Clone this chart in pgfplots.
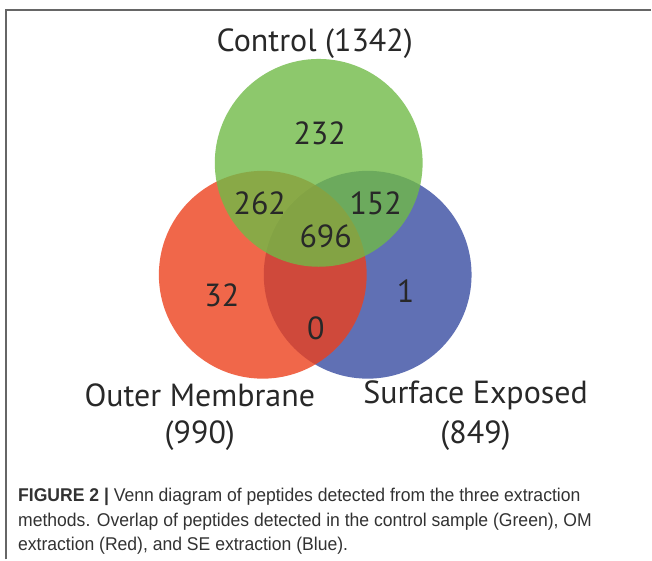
\documentclass[border=0pt]{standalone}
\usepackage{pgfplots}
\pgfplotsset{compat=1.18}
\usepackage{fontspec}
\setmainfont{Liberation Sans}
\newfontfamily\myriad{PT Sans}
\newfontfamily\capfont[FakeStretch=0.95]{Liberation Sans}
\definecolor{vblue}{RGB}{56,76,161}
\definecolor{vred}{RGB}{236,65,29}
\definecolor{vgreen}{RGB}{112,186,71}
\definecolor{txt}{RGB}{40,40,40}
\definecolor{captxt}{RGB}{50,50,50}
\pgfplotsset{set layers}
\tikzset{lab/.style={font=\myriad\fontsize{32}{38}\selectfont,text=txt,inner sep=0pt},
  capt/.style={anchor=west,font=\capfont\fontsize{18.5}{22}\selectfont,text=captxt,inner sep=0pt}}
\begin{document}
\begin{tikzpicture}
\begin{axis}[width=652pt,height=560pt,scale only axis,
  xmin=0,xmax=652,ymin=0,ymax=560,y dir=reverse,hide axis,clip=false]
\addplot[draw=none,mark=none] coordinates {(0,0)(652,560)};
% frame
\addplot[color=black!60,line width=1.2pt,mark=none] coordinates {(6,560)(6,10)(652,10)};
% circles: blue (Surface Exposed), red (Outer Membrane), green (Control)
\addplot[only marks,mark=*,mark size=104pt,draw=none,mark options={draw opacity=0,fill=vblue,fill opacity=0.8}] coordinates {(368,275)};
\addplot[only marks,mark=*,mark size=104pt,draw=none,mark options={draw opacity=0,fill=vred,fill opacity=0.8}] coordinates {(263,275)};
\addplot[only marks,mark=*,mark size=104pt,draw=none,mark options={draw opacity=0,fill=vgreen,fill opacity=0.8}] coordinates {(319,163)};
\begin{pgfonlayer}{axis foreground}
\node[lab] at (axis cs:315,44) {Control (1342)};
\node[lab] at (axis cs:320,133) {232};
\node[lab] at (axis cs:260,203) {262};
\node[lab] at (axis cs:376,203) {152};
\node[lab] at (axis cs:326,237) {696};
\node[lab] at (axis cs:222,296) {32};
\node[lab] at (axis cs:316,329) {0};
\node[lab] at (axis cs:406,291) {1};
\node[lab] at (axis cs:200,396) {Outer Membrane};
\node[lab] at (axis cs:200,436) {(990)};
\node[lab] at (axis cs:476,396) {Surface Exposed};
\node[lab] at (axis cs:476,436) {(849)};
\node[capt] at (axis cs:18,497) {{\bfseries FIGURE 2 |} Venn diagram of peptides detected from the three extraction};
\node[capt] at (axis cs:18,522) {methods. Overlap of peptides detected in the control sample (Green), OM};
\node[capt] at (axis cs:18,546) {extraction (Red), and SE extraction (Blue).};
\end{pgfonlayer}
\end{axis}
\end{tikzpicture}
\end{document}
